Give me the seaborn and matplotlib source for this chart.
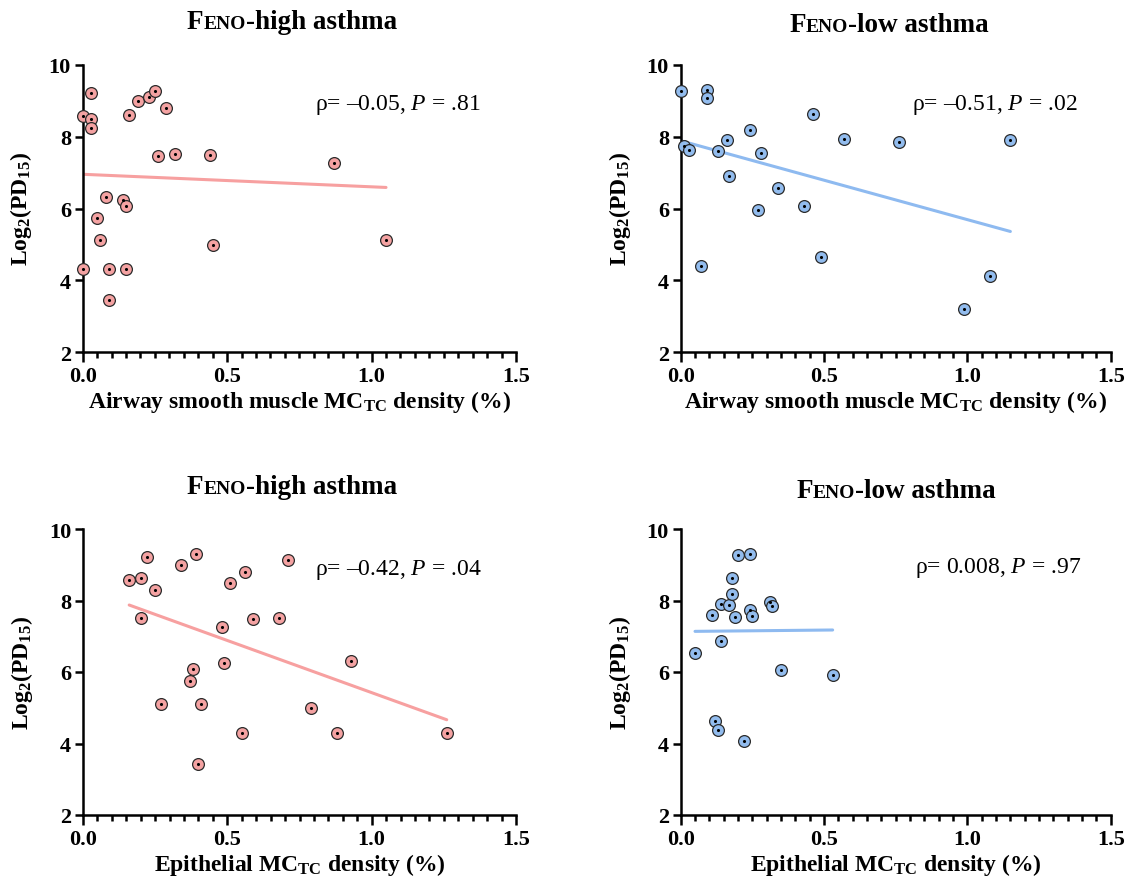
import matplotlib
matplotlib.use("Agg")
import matplotlib.pyplot as plt
import seaborn as sns
import pandas as pd
from matplotlib.ticker import MultipleLocator, FixedLocator
from matplotlib.transforms import IdentityTransform

# ---- data: MC_TC density (%) vs Log2(PD15) ----
asm_high_x = [0.00, 0.03, 0.03, 0.03, 0.00, 0.05, 0.06, 0.08, 0.09, 0.09, 0.14, 0.15,
              0.15, 0.16, 0.19, 0.23, 0.25, 0.29, 0.26, 0.32, 0.44, 0.45, 0.87, 1.05]
asm_high_y = [8.56, 9.21, 8.48, 8.25, 4.31, 5.73, 5.12, 6.32, 4.31, 3.45, 6.24, 6.07,
              4.31, 8.61, 8.98, 9.09, 9.27, 8.79, 7.47, 7.51, 7.50, 4.99, 7.27, 5.12]

asm_low_x = [0.00, 0.01, 0.03, 0.09, 0.09, 0.07, 0.13, 0.16, 0.17, 0.24, 0.28,
             0.27, 0.34, 0.43, 0.46, 0.49, 0.57, 0.76, 0.99, 1.08, 1.15]
asm_low_y = [9.27, 7.75, 7.62, 9.29, 9.08, 4.40, 7.59, 7.90, 6.90, 8.19, 7.54,
             5.96, 6.56, 6.08, 8.64, 4.65, 7.94, 7.85, 3.20, 4.11, 7.91]

epi_high_x = [0.16, 0.20, 0.22, 0.25, 0.20, 0.27, 0.34, 0.39, 0.38, 0.37, 0.41, 0.40,
              0.48, 0.49, 0.51, 0.56, 0.55, 0.59, 0.68, 0.71, 0.79, 0.88, 0.93, 1.26]
epi_high_y = [8.57, 8.63, 9.23, 8.28, 7.51, 5.11, 9.00, 9.29, 6.08, 5.74, 5.11, 3.43,
              7.27, 6.24, 8.50, 8.81, 4.30, 7.47, 7.50, 9.13, 4.98, 4.30, 6.32, 4.30]

epi_low_x = [0.05, 0.11, 0.14, 0.14, 0.12, 0.13, 0.17, 0.18, 0.18, 0.19,
             0.20, 0.24, 0.22, 0.24, 0.25, 0.31, 0.32, 0.35, 0.53]
epi_low_y = [6.53, 7.60, 7.90, 6.88, 4.62, 4.37, 7.88, 8.63, 8.18, 7.54,
             9.28, 9.29, 4.06, 7.74, 7.58, 7.95, 7.84, 6.05, 5.93]

titles = ["-high asthma", "-low asthma", "-high asthma", "-low asthma"]
stats = ["ρ= –0.05, $\\mathit{P}$ = .81", "ρ= –0.51, $\\mathit{P}$ = .02",
         "ρ= –0.42, $\\mathit{P}$ = .04", "ρ= 0.008, $\\mathit{P}$ = .97"]
xlabels = ["Airway smooth muscle MC$_{\\mathbf{TC}}$ density (%)",
           "Airway smooth muscle MC$_{\\mathbf{TC}}$ density (%)",
           "Epithelial MC$_{\\mathbf{TC}}$ density (%)",
           "Epithelial MC$_{\\mathbf{TC}}$ density (%)"]
ylabel = "Log$_{\\mathbf{2}}$(PD$_{\\mathbf{15}}$)"
x_ticks = [0.0, 0.5, 1.0, 1.5]
x_ticklabels = ["0.0", "0.5", "1.0", "1.5"]
y_ticks = [2, 4, 6, 8, 10]
y_ticklabels = ["2", "4", "6", "8", "10"]

PINK_FILL, PINK_LINE = "#F4A2A2", "#F7A0A0"
BLUE_FILL, BLUE_LINE = "#92BCEE", "#8EBAF0"

sns.set_style("ticks")
plt.rcParams["font.family"] = ["Liberation Serif", "DejaVu Serif"]
plt.rcParams["mathtext.fontset"] = "custom"
plt.rcParams["mathtext.rm"] = "Liberation Serif"
plt.rcParams["mathtext.it"] = "Liberation Serif:italic"
plt.rcParams["mathtext.bf"] = "Liberation Serif:bold"
plt.rcParams["text.color"] = "black"
plt.rcParams["axes.labelcolor"] = "black"

W, H = 1130, 895
fig = plt.figure(figsize=(W / 100, H / 100), dpi=100)

# axes boxes in pixels: left, right, top, bottom
boxes = [(82.7, 516.0, 65.7, 353.3), (680.7, 1110.7, 65.7, 353.3),
         (83.0, 516.0, 530.0, 816.0), (680.7, 1110.7, 530.0, 816.0)]
panels = [
    (asm_high_x, asm_high_y, PINK_FILL, PINK_LINE),
    (asm_low_x, asm_low_y, BLUE_FILL, BLUE_LINE),
    (epi_high_x, epi_high_y, PINK_FILL, PINK_LINE),
    (epi_low_x, epi_low_y, BLUE_FILL, BLUE_LINE),
]
stat_pos = [(0.536, 0.863), (0.538, 0.863), (0.536, 0.860), (0.545, 0.867)]
title_pos = [(292, 29), (889, 32), (292, 494), (896, 498)]

renderer = fig.canvas.get_renderer()


def feno_title(cx, y_base, rest):
    parts = [("F", 19.5), ("ENO", 14), (rest, 19.5)]
    txts = [fig.text(0, 0, s, fontsize=fs, fontweight="bold", va="baseline",
                     ha="left", color="black", transform=IdentityTransform())
            for s, fs in parts]
    widths = [t.get_window_extent(renderer).width for t in txts]
    x = cx - sum(widths) / 2
    for t, w in zip(txts, widths):
        t.set_position((x, H - y_base))
        x += w


for i, ((xs, ys, fill, line), (l, r, t, b)) in enumerate(zip(panels, boxes)):
    ax = fig.add_axes([l / W, 1 - b / H, (r - l) / W, (b - t) / H])
    df = pd.DataFrame({"x": xs, "y": ys})
    sns.regplot(data=df, x="x", y="y", ax=ax, scatter=False, ci=None, truncate=True,
                line_kws=dict(color=line, lw=2.2, zorder=2))
    sns.scatterplot(data=df, x="x", y="y", ax=ax, s=72, color=fill,
                    edgecolor="#2a2a2a", linewidth=0.9, zorder=3, clip_on=False)
    sns.scatterplot(data=df, x="x", y="y", ax=ax, s=5, color="black",
                    linewidth=0, zorder=4, clip_on=False)

    ax.set_xlim(0, 1.5)
    ax.set_ylim(2, 10)
    ax.xaxis.set_major_locator(FixedLocator(x_ticks))
    ax.set_xticklabels(x_ticklabels)
    ax.xaxis.set_minor_locator(MultipleLocator(0.05))
    ax.yaxis.set_major_locator(FixedLocator(y_ticks))
    ax.set_yticklabels(y_ticklabels)
    for s in ("top", "right"):
        ax.spines[s].set_visible(False)
    for s in ("left", "bottom"):
        ax.spines[s].set_linewidth(1.8)
        ax.spines[s].set_color("black")
    ax.tick_params(axis="x", which="major", length=7, width=1.8, pad=3,
                   labelsize=16, colors="black")
    ax.tick_params(axis="x", which="minor", length=4.5, width=1.8, colors="black")
    ax.tick_params(axis="y", which="major", length=5.5, width=1.8, pad=3,
                   labelsize=16, colors="black")
    for lab in ax.get_xticklabels() + ax.get_yticklabels():
        lab.set_fontweight("bold")

    ax.set_xlabel(xlabels[i], fontsize=17, fontweight="bold")
    ax.set_ylabel(ylabel, fontsize=17, fontweight="bold")
    ax.xaxis.set_label_coords(0.5, -0.125)
    ax.yaxis.set_label_coords(-0.112, 0.5)

    ax.text(stat_pos[i][0], stat_pos[i][1], stats[i], transform=ax.transAxes,
            fontsize=17, ha="left", va="center", color="black")

    feno_title(title_pos[i][0], title_pos[i][1], titles[i])

fig.savefig("out.png", dpi=100, facecolor="white")
